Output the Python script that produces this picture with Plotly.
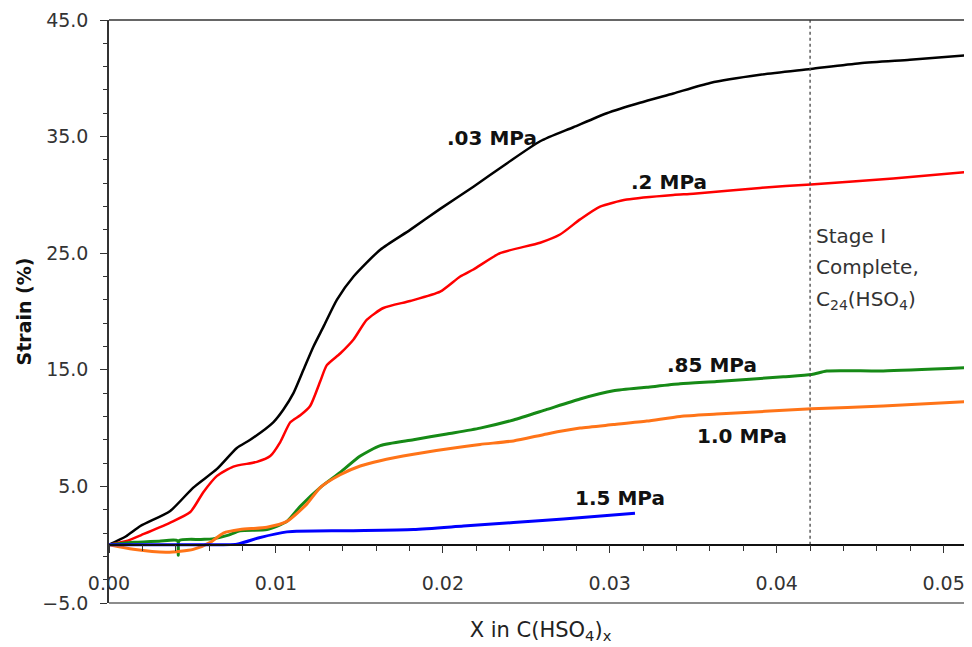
import plotly.graph_objects as go

# ---- data ----
x_003 = [0, 0.0010, 0.00188, 0.00367, 0.00505, 0.00647, 0.00766, 0.00846, 0.00984, 0.01045,
         0.01105, 0.01165, 0.01225, 0.01285, 0.01365, 0.01465, 0.01625, 0.01804, 0.01984,
         0.02183, 0.02383, 0.02583, 0.02782, 0.02982, 0.03181, 0.03381, 0.03601, 0.03900,
         0.04204, 0.04499, 0.04798, 0.05169]
s_003 = [0, 0.7, 1.6, 2.9, 4.9, 6.5, 8.3, 9.0, 10.5, 11.6,
         13.0, 15.0, 17.0, 18.7, 21.0, 23.0, 25.3, 27.0, 28.8,
         30.7, 32.7, 34.6, 35.8, 37.0, 37.9, 38.7, 39.6, 40.3,
         40.8, 41.3, 41.6, 42.0]

x_02 = [0, 0.0010, 0.00205, 0.00367, 0.00487, 0.00565, 0.00647, 0.00745, 0.00886, 0.00966,
        0.01026, 0.01086, 0.01146, 0.01205, 0.01265, 0.01305, 0.01385, 0.01465, 0.01545,
        0.01644, 0.01804, 0.01984, 0.02104, 0.02183, 0.02343, 0.02583, 0.02702, 0.02822,
        0.02942, 0.03102, 0.03381, 0.03501, 0.03900, 0.04204, 0.04698, 0.05169]
s_02 = [0, 0.3, 0.9, 1.9, 2.8, 4.5, 5.9, 6.7, 7.1, 7.6,
        8.8, 10.5, 11.1, 11.9, 14.0, 15.4, 16.4, 17.6, 19.3,
        20.3, 20.9, 21.7, 23.0, 23.6, 25.0, 25.9, 26.6, 27.9,
        29.0, 29.6, 30.0, 30.1, 30.6, 30.9, 31.4, 32.0]

x_085 = [0, 0.0015, 0.0030, 0.0041, 0.00415, 0.0042, 0.0055, 0.0062, 0.0071, 0.00786,
         0.00946, 0.01066, 0.01146, 0.01265, 0.01385, 0.01505, 0.01625, 0.01824, 0.02024,
         0.02223, 0.02423, 0.02623, 0.02822, 0.03022, 0.03222, 0.03421, 0.03641, 0.0404,
         0.0421, 0.0430, 0.04638, 0.05168]
s_085 = [0, 0.2, 0.3, 0.35, -0.9, 0.35, 0.45, 0.5, 0.8, 1.2,
         1.3, 2.0, 3.3, 4.9, 6.2, 7.6, 8.5, 9.0, 9.5,
         10.0, 10.7, 11.6, 12.5, 13.2, 13.5, 13.8, 14.0, 14.4,
         14.6, 14.9, 14.9, 15.2]

x_10 = [0, 0.00146, 0.00347, 0.00505, 0.00607, 0.00685, 0.00786, 0.00946, 0.01066, 0.01186,
        0.01265, 0.01385, 0.01505, 0.01625, 0.01824, 0.02024, 0.02223, 0.02423, 0.02623,
        0.02822, 0.03022, 0.03222, 0.03421, 0.03641, 0.0421, 0.04638, 0.05168]
s_10 = [0, -0.4, -0.65, -0.4, 0.2, 1.0, 1.3, 1.5, 2.0, 3.5,
        4.9, 6.0, 6.75, 7.2, 7.75, 8.2, 8.6, 8.9, 9.5,
        10.0, 10.3, 10.6, 11.0, 11.2, 11.65, 11.9, 12.3]

x_15 = [0, 0.0040, 0.00766, 0.0090, 0.01066, 0.01425, 0.01824, 0.02123, 0.02423, 0.02722, 0.03151]
s_15 = [0, 0.0, 0.05, 0.6, 1.1, 1.2, 1.3, 1.6, 1.9, 2.2, 2.7]

series_names = [".03 MPa", ".2 MPa", ".85 MPa", "1.0 MPa", "1.5 MPa"]
series_colors = ["#000000", "#ff0000", "#168a16", "#ff7418", "#0000ff"]
label_x = [0.02295, 0.03355, 0.03613, 0.03793, 0.03062]
label_y = [34.9, 31.1, 15.45, 9.32, 4.04]

stage_x = 0.042
stage_lines = ["Stage I", "Complete,", "C<sub>24</sub>(HSO<sub>4</sub>)"]
stage_y = [26.5, 23.8, 21.0]

x_range = [0, 0.0517]
y_range = [-5, 45]

FONT = "DejaVu Sans, Liberation Sans, Arial, sans-serif"

fig = go.Figure()
data = [(x_003, s_003, 2.5), (x_02, s_02, 2.5), (x_085, s_085, 3), (x_10, s_10, 3), (x_15, s_15, 3)]
for (xs, ys, w), name, col in zip(data, series_names, series_colors):
    fig.add_trace(go.Scatter(x=xs, y=ys, mode="lines", name=name,
                             line=dict(color=col, width=w, shape="spline", smoothing=0.6),
                             showlegend=False))

# vertical dashed marker line
fig.add_trace(go.Scatter(x=[stage_x, stage_x], y=[0, y_range[1]], mode="lines",
                         line=dict(color="#444444", width=1.3, dash="3px,3px"),
                         showlegend=False, hoverinfo="skip"))

for name, lx, ly in zip(series_names, label_x, label_y):
    fig.add_annotation(x=lx, y=ly, text="<b>%s</b>" % name, showarrow=False,
                       font=dict(family=FONT, size=20, color="#111111"))

for t, yy in zip(stage_lines, stage_y):
    fig.add_annotation(x=stage_x, y=yy, text=t, showarrow=False, xanchor="left", xshift=4,
                       font=dict(family=FONT, size=20, color="#333333"))

# frame lines (top and bottom of plot area)
fig.add_shape(type="line", xref="paper", yref="paper", x0=0, x1=1, y0=1, y1=1,
              line=dict(color="#333333", width=1.5))
fig.add_shape(type="line", xref="paper", yref="paper", x0=0, x1=1, y0=0, y1=0,
              line=dict(color="#666666", width=1.5))

fig.update_layout(
    width=964, height=639,
    margin=dict(l=101, r=0, t=12, b=44),
    paper_bgcolor="white", plot_bgcolor="white",
    font=dict(family=FONT, size=20, color="#333333"),
    xaxis=dict(range=x_range, anchor="free", position=(0 - y_range[0]) / (y_range[1] - y_range[0]),
               showline=True, linecolor="#111111", linewidth=1.5,
               ticks="outside", ticklen=8, tickwidth=1.3, tickcolor="#333333",
               tick0=0, dtick=0.01, tickformat=".2f",
               minor=dict(dtick=0.002, ticks="outside", ticklen=6, tickcolor="#333333", tickwidth=1.2),
               ticklabelstandoff=14,
               tickfont=dict(family=FONT, size=19, color="#333333"),
               showgrid=False, zeroline=False,
               title=dict(text="X in C(HSO<sub>4</sub>)<sub>x</sub>", standoff=28,
                          font=dict(family=FONT, size=21, color="#222222"))),
    yaxis=dict(range=y_range, showline=True, linecolor="#333333", linewidth=1.5,
               ticks="outside", ticklen=7, tickwidth=1.3, tickcolor="#333333",
               tick0=-5, dtick=10, tickformat=".1f",
               minor=dict(dtick=2, tick0=-5, ticks="outside", ticklen=4, tickcolor="#333333", tickwidth=1.2),
               ticklabelstandoff=8,
               tickfont=dict(family=FONT, size=19, color="#333333"),
               showgrid=False, zeroline=False,
               title=dict(text="<b>Strain (%)</b>", standoff=6,
                          font=dict(family=FONT, size=19, color="#111111"))),
)

fig.write_html("out.html")
